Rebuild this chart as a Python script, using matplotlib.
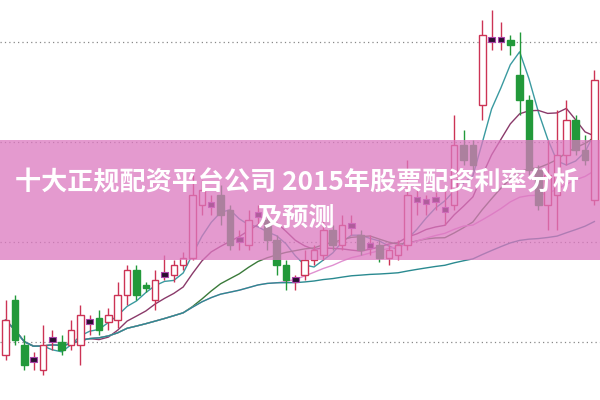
import numpy as np
import pandas as pd
import matplotlib.pyplot as plt
from matplotlib.patches import Rectangle

# candle data (price units)
opens  = [45,100,55,42,30,60,58,55,55,80,82,78,80,105,130,115,100,125,125,135,
          142,195,195,205,190,160,155,185,180,160,135,121,125,140,145,170,155,175,165,155,
          155,142,145,155,200,198,202,190,195,255,255,295,360,360,360,325,300,230,195,205,
          245,280,250,200]
closes = [80,60,35,40,55,61,50,70,85,78,70,85,105,130,105,112,120,126,135,142,
          205,210,196,185,155,160,180,186,160,135,120,120,140,150,170,155,175,174,150,154,
          142,150,155,205,201,199,200,191,255,240,235,365,360,361,355,300,230,195,225,245,
          280,250,240,320]
highs  = [100,105,65,48,75,70,65,80,95,85,90,92,118,135,135,118,130,145,140,148,
          225,220,205,215,195,170,190,195,185,165,140,125,150,155,180,175,185,185,170,165,
          160,155,160,240,210,205,208,210,285,270,260,380,390,378,365,368,305,235,260,290,
          300,285,265,330]
lows   = [40,55,30,30,25,50,45,50,35,65,65,70,72,95,100,108,90,120,118,130,
          140,185,185,175,150,150,150,175,150,125,110,110,120,135,140,150,150,165,145,145,
          138,135,140,150,185,185,190,175,190,235,230,280,350,350,345,285,225,190,170,170,
          235,245,235,195]

ma_windows = [5, 10, 20, 30, 60]
ma_colors = ['#3a9aa0', '#8a3a6a', '#3a7a3a', '#e090d0', '#2a8a90']

fig = plt.figure(figsize=(6, 4), dpi=100)
ax = fig.add_axes([0, 0, 1, 1])
n = len(closes)
ax.set_xlim(-0.6, n - 0.4)
ax.set_ylim(0, 400)
ax.axis('off')

for y in [58, 158, 258, 358]:
    ax.axhline(y, color='#888888', lw=0.9, ls=(0, (1, 2.5)), zorder=1)

close_s = pd.Series(closes, dtype=float)
for w, c in zip(ma_windows, ma_colors):
    ax.plot(range(n), close_s.rolling(w, min_periods=1).mean(), color=c, lw=1.0, zorder=2)

for i in range(n):
    o, c, h, l = opens[i], closes[i], highs[i], lows[i]
    if abs(c - o) < 3:
        col = '#cc3355'
        ax.vlines(i, l, h, color=col, lw=1, zorder=3)
        ax.add_patch(Rectangle((i - 0.35, min(o, c) - 2), 0.7, 5, facecolor='#2a1030',
                               edgecolor='#aa44aa', lw=0.8, zorder=4))
    elif c > o:
        col = '#cc3355'
        ax.vlines(i, c, h, color=col, lw=1, zorder=3)
        ax.vlines(i, l, o, color=col, lw=1, zorder=3)
        ax.add_patch(Rectangle((i - 0.35, o), 0.7, c - o, facecolor='white',
                               edgecolor=col, lw=1, zorder=4))
    else:
        col = '#22993a'
        ax.vlines(i, l, h, color=col, lw=1, zorder=3)
        ax.add_patch(Rectangle((i - 0.35, c), 0.7, o - c, facecolor=col,
                               edgecolor=col, lw=1, zorder=4))

ax.add_patch(Rectangle((-1, 140), n + 2, 120, facecolor='#dc78c0', alpha=0.75,
                       edgecolor='none', zorder=5))

fig.text(0.025, 0.543, '十大正规配资平台公司 2015年股票配资利率分析', color='white',
         fontsize=18.8, fontweight='bold', va='center', ha='left',
         family=['Noto Sans CJK SC', 'DejaVu Sans'], zorder=6)
fig.text(0.428, 0.455, '及预测', color='white', fontsize=18.8, fontweight='bold',
         va='center', ha='left', family=['Noto Sans CJK SC', 'DejaVu Sans'], zorder=6)

fig.savefig('out.png', dpi=100)
